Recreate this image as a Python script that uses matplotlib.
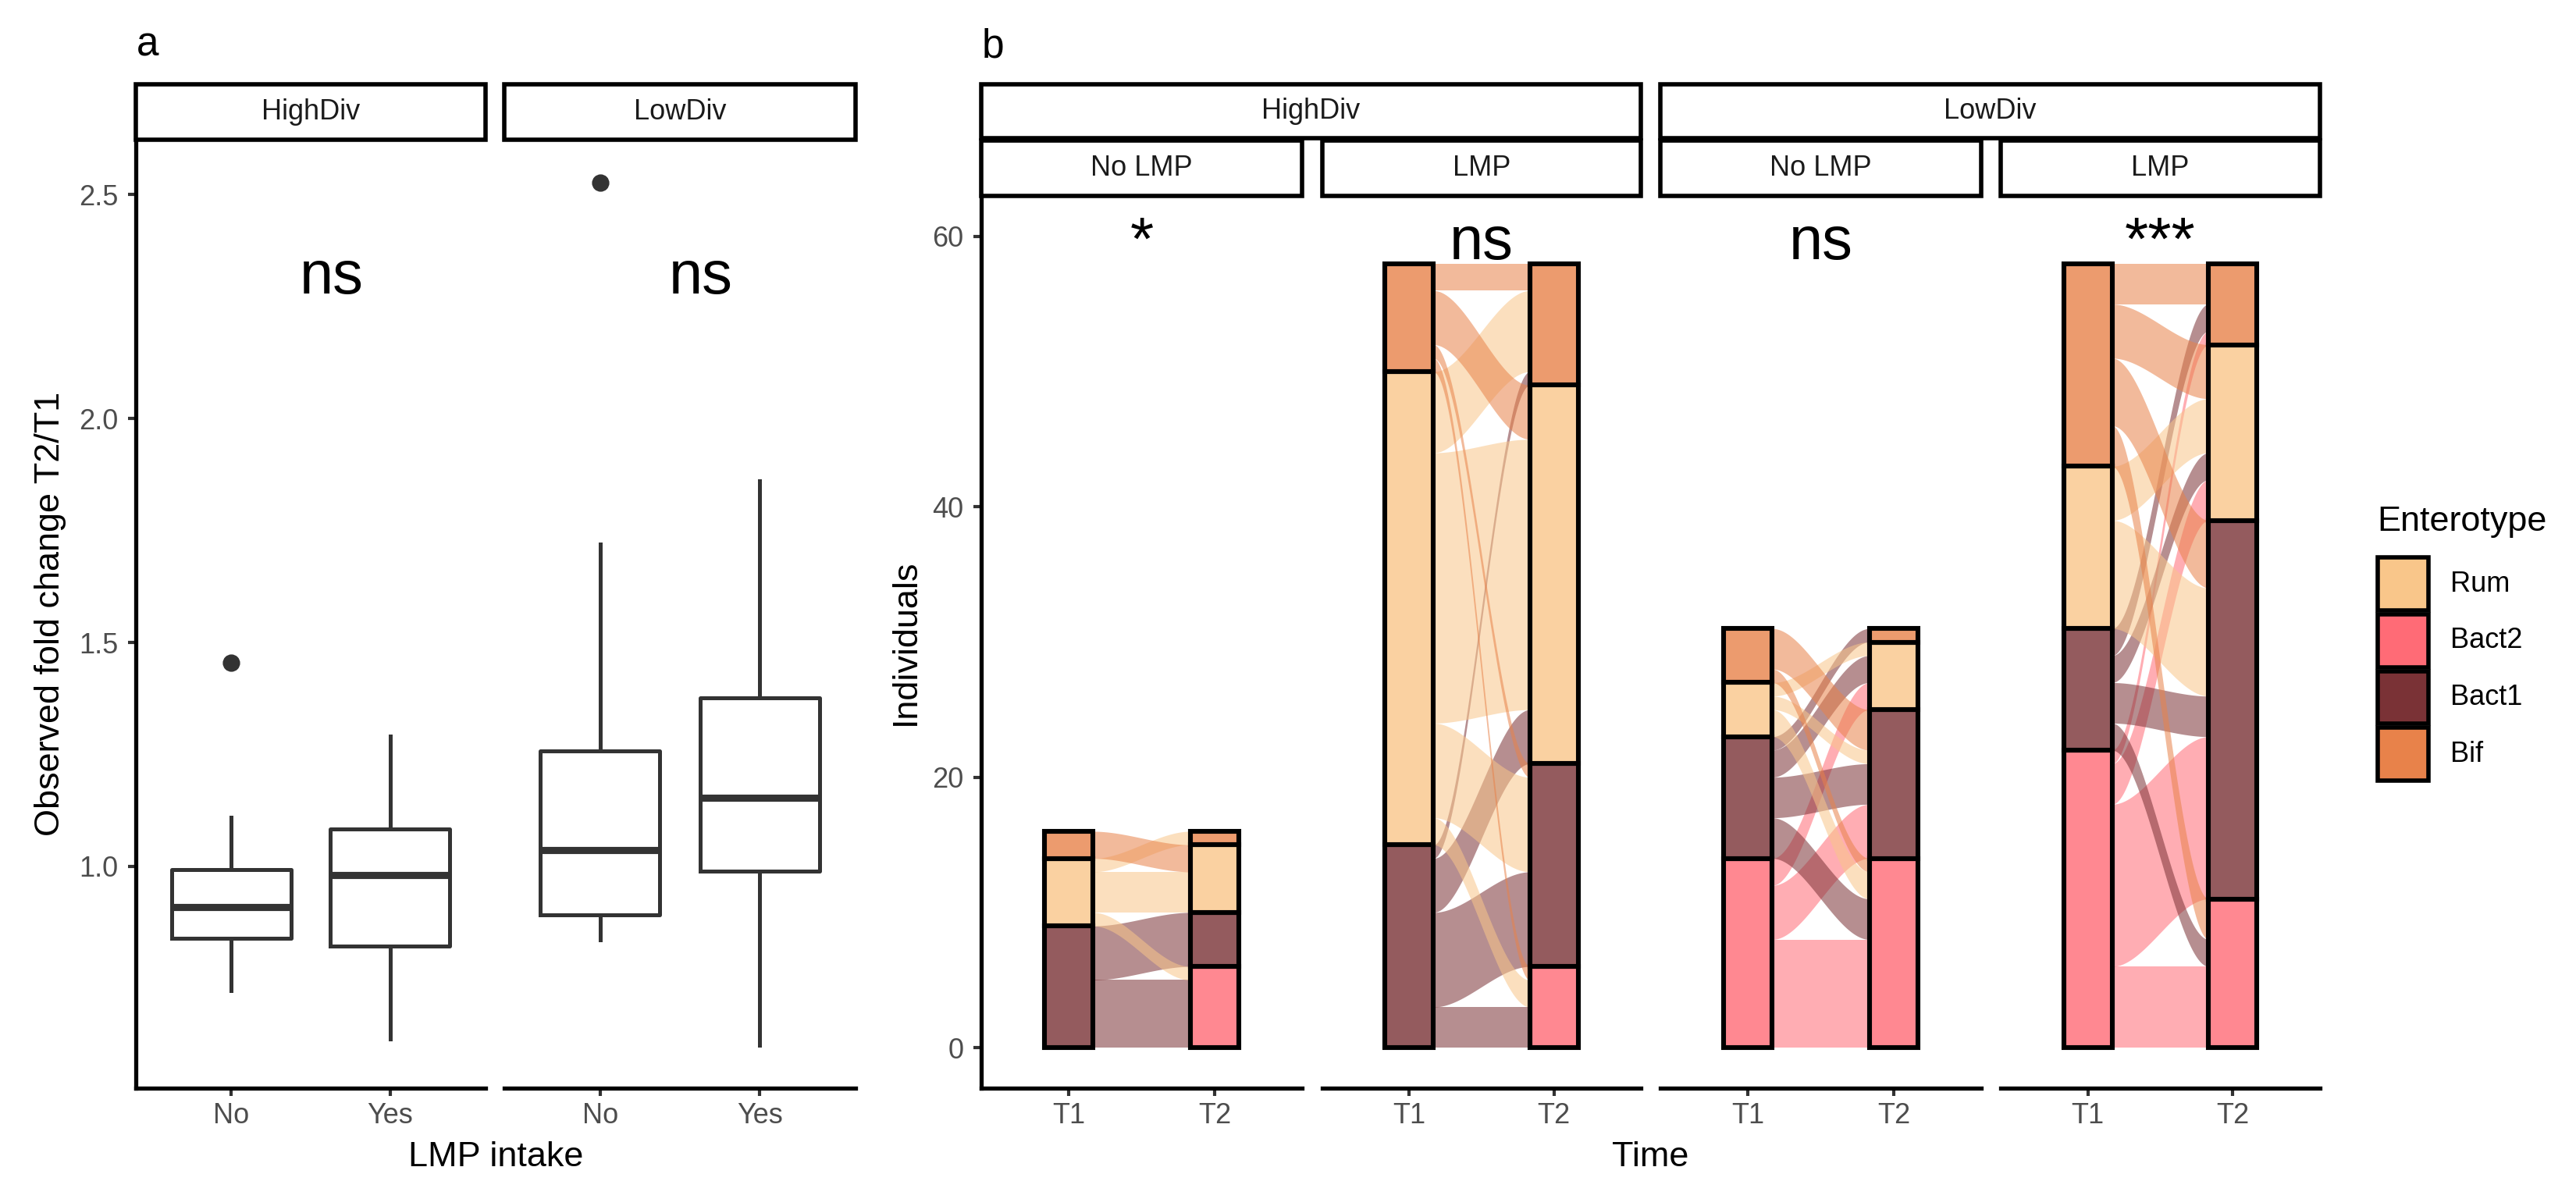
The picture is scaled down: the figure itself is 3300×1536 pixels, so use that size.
import numpy as np
import matplotlib
matplotlib.use('Agg')
import matplotlib.pyplot as plt
from matplotlib.patches import Rectangle
from matplotlib.colors import to_rgba

plt.rcParams['font.family'] = ['Liberation Sans', 'DejaVu Sans']

W, H, DPI = 3300, 1536, 200

# ---- panel a: fold change box plots ----
div_groups = ['HighDiv', 'LowDiv']
intake_labels = ['No', 'Yes']
whislo = [[0.722, 0.614], [0.836, 0.601]]
q1 = [[0.840, 0.822], [0.892, 0.990]]
med = [[0.909, 0.980], [1.037, 1.153]]
q3 = [[0.993, 1.083], [1.257, 1.377]]
whishi = [[1.110, 1.291], [1.720, 1.860]]
fliers = [[[1.455], []], [[2.527], []]]
sig_a = ['ns', 'ns']
sig_a_x, sig_a_y = 1.63, 2.28

# ---- panel b: enterotype alluvial ----
enterotypes = ['Bact2', 'Bact1', 'Rum', 'Bif']  # stacking order, bottom -> top
legend_order = ['Rum', 'Bact2', 'Bact1', 'Bif']
ent_colors = {'Rum': '#F9C68A', 'Bact2': '#FF6B76', 'Bact1': '#7A3236', 'Bif': '#E8824A'}
times = ['T1', 'T2']
lmp_groups = ['No LMP', 'LMP']
# individuals moving from T1 enterotype (rows) to T2 enterotype (cols)
flows_high_nolmp = [[0, 0, 0, 0], [5, 4, 0, 0], [1, 0, 3, 1], [0, 0, 2, 0]]
flows_high_lmp = [[0, 0, 0, 0], [3, 7, 4, 1], [2, 7, 20, 6], [1, 1, 4, 2]]
flows_low_nolmp = [[8, 4, 2, 0], [3, 3, 2, 1], [2, 1, 1, 0], [1, 3, 0, 0]]
flows_low_lmp = [[6, 12, 3, 1], [2, 3, 2, 2], [0, 8, 4, 0], [3, 5, 4, 3]]
panel_flows = [flows_high_nolmp, flows_high_lmp, flows_low_nolmp, flows_low_lmp]
sig_b = ['*', 'ns', 'ns', '***']
sig_b_y = 58.3

TITLE_FS = 16.2
SMALL_FS = 13


def fbox(x0, y0, x1, y1):
    return [x0 / W, 1 - y1 / H, (x1 - x0) / W, (y1 - y0) / H]


def fx(x):
    return x / W


def fy(y):
    return 1 - y / H


def style_axis(ax, show_y):
    for s in ['top', 'right']:
        ax.spines[s].set_visible(False)
    ax.spines['bottom'].set_linewidth(1.9)
    ax.spines['left'].set_linewidth(1.9)
    ax.spines['left'].set_visible(show_y)
    ax.tick_params(length=3.6, width=1.5, color='#333333', labelsize=SMALL_FS,
                   labelcolor='#4D4D4D')
    ax.tick_params(axis='x', pad=3)
    ax.tick_params(axis='y', pad=4.5)
    if not show_y:
        ax.tick_params(axis='y', left=False, labelleft=False)
    ax.set_facecolor('none')


def strip(fig, x0, y0, x1, y1, label):
    fig.add_artist(Rectangle((fx(x0), fy(y1)), (x1 - x0) / W, (y1 - y0) / H,
                             transform=fig.transFigure, facecolor='white',
                             edgecolor='black', lw=2))
    fig.text(fx((x0 + x1) / 2), fy((y0 + y1) / 2), label, ha='center', va='center',
             fontsize=SMALL_FS, color='#1A1A1A')


fig = plt.figure(figsize=(W / DPI, H / DPI), dpi=DPI)

# panel a
a_cols = [(174, 622), (646, 1096)]
a_top, a_bot = 178.6, 1394
all_a = sum(whislo, []) + sum(whishi, []) + [v for g in fliers for f in g for v in f]
pad = 0.05 * (max(all_a) - min(all_a))
for i, g in enumerate(div_groups):
    ax = fig.add_axes(fbox(a_cols[i][0], a_top, a_cols[i][1], a_bot))
    stats = [dict(whislo=whislo[i][j], q1=q1[i][j], med=med[i][j], q3=q3[i][j],
                  whishi=whishi[i][j], fliers=fliers[i][j]) for j in range(2)]
    ax.bxp(stats, positions=[1, 2], widths=0.75, showcaps=False,
           boxprops=dict(color='#333333', lw=1.8),
           whiskerprops=dict(color='#333333', lw=1.8),
           medianprops=dict(color='#333333', lw=3.3, solid_capstyle='butt'),
           flierprops=dict(marker='o', markerfacecolor='#333333',
                           markeredgecolor='#333333', markersize=7))
    ax.set_xlim(0.4, 2.6)
    ax.set_ylim(min(all_a) - pad, max(all_a) + pad)
    ax.set_xticks([1, 2])
    ax.set_xticklabels(intake_labels)
    ax.set_yticks([1.0, 1.5, 2.0, 2.5])
    ax.set_yticklabels(['1.0', '1.5', '2.0', '2.5'])
    style_axis(ax, i == 0)
    ax.text(sig_a_x, sig_a_y, sig_a[i], ha='center', va='baseline', fontsize=28)
    strip(fig, a_cols[i][0], 108, a_cols[i][1], a_top, g)

fig.text(fx(175), fy(71), 'a', fontsize=18.5, ha='left', va='baseline')
fig.text(fx(65), fy((a_top + a_bot) / 2), 'Observed fold change T2/T1', rotation=90,
         ha='center', va='center', fontsize=TITLE_FS)
fig.text(fx(635), fy(1494), 'LMP intake', ha='center', va='baseline', fontsize=TITLE_FS)

# panel b
b_cols = [(1257, 1668), (1694, 2102), (2127, 2538), (2563, 2972)]
b_top, b_bot = 251, 1394
bw = 1 / 3
xs = np.linspace(1 + bw / 2, 2 - bw / 2, 120)
t = (xs - xs[0]) / (xs[-1] - xs[0])
ease = 3 * t ** 2 - 2 * t ** 3
for k, mat in enumerate(panel_flows):
    mat = np.array(mat)
    ax = fig.add_axes(fbox(b_cols[k][0], b_top, b_cols[k][1], b_bot))
    n1 = mat.sum(axis=1)
    n2 = mat.sum(axis=0)
    base1 = np.concatenate([[0], np.cumsum(n1)[:-1]])
    base2 = np.concatenate([[0], np.cumsum(n2)[:-1]])
    # flows (coloured by T1 enterotype)
    for s in range(4):
        for d in range(4):
            n = mat[s, d]
            if n == 0:
                continue
            y0 = base1[s] + mat[s, :d].sum()
            y1 = base2[d] + mat[:s, d].sum()
            lower = y0 + (y1 - y0) * ease
            ax.fill_between(xs, lower, lower + n, color=ent_colors[enterotypes[s]],
                            alpha=0.55, lw=0)
    # strata
    for ti, (counts, base) in enumerate([(n1, base1), (n2, base2)]):
        for s in range(4):
            if counts[s] == 0:
                continue
            ax.bar(ti + 1, counts[s], bottom=base[s], width=bw,
                   facecolor=to_rgba(ent_colors[enterotypes[s]], 0.8),
                   edgecolor='black', lw=2.2, zorder=3)
    ax.set_xlim(0.4, 2.6)
    ax.set_ylim(-3, 63)
    ax.set_xticks([1, 2])
    ax.set_xticklabels(times)
    ax.set_yticks([0, 20, 40, 60])
    style_axis(ax, k == 0)
    ax.text(1.5, sig_b_y, sig_b[k], ha='center', va='baseline', fontsize=28)
    strip(fig, b_cols[k][0], 180, b_cols[k][1], b_top, lmp_groups[k % 2])

strip(fig, b_cols[0][0], 108, b_cols[1][1], 177, div_groups[0])
strip(fig, b_cols[2][0], 108, b_cols[3][1], 177, div_groups[1])

fig.text(fx(1258), fy(74), 'b', fontsize=18.5, ha='left', va='baseline')
fig.text(fx(1160), fy((b_top + b_bot) / 2), 'Individuals', rotation=90,
         ha='center', va='center', fontsize=TITLE_FS)
fig.text(fx((b_cols[0][0] + b_cols[3][1]) / 2), fy(1494), 'Time', ha='center',
         va='baseline', fontsize=TITLE_FS)

# legend
fig.text(fx(3045), fy(680), 'Enterotype', ha='left', va='baseline', fontsize=TITLE_FS)
key_top, key_h = 711.7, 72.7
for i, e in enumerate(legend_order):
    y0 = key_top + i * key_h
    fig.add_artist(Rectangle((fx(3045.5), fy(y0 + key_h - 2.5)), 65 / W, (key_h - 5) / H,
                             transform=fig.transFigure, facecolor=ent_colors[e],
                             edgecolor='black', lw=2))
    fig.text(fx(3139), fy(y0 + key_h / 2), e, ha='left', va='center', fontsize=SMALL_FS)

fig.savefig('out.png', dpi=DPI)
